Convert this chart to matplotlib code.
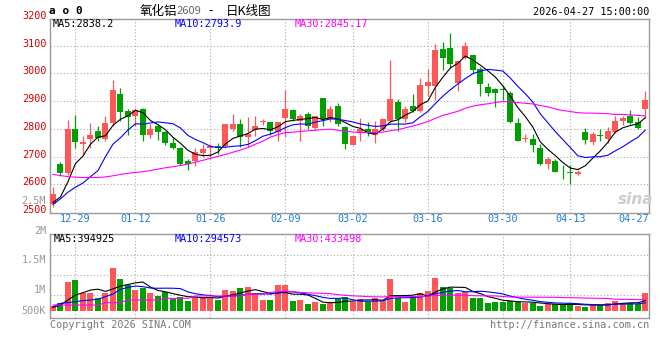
import numpy as np
import pandas as pd
import matplotlib
matplotlib.use("Agg")
import matplotlib.pyplot as plt
import matplotlib.transforms as mtransforms

# 日K数据, 12-24 .. 04-27 共80根
opens = [2530, 2672, 2642, 2800, 2745, 2762, 2793, 2762, 2822, 2925,
         2866, 2848, 2872, 2779, 2810, 2788, 2750, 2732, 2684, 2684,
         2714, 2733, 2740, 2738, 2798, 2818, 2771, 2795, 2825, 2826,
         2790, 2838, 2868, 2830, 2853, 2802, 2913, 2834, 2881, 2806,
         2741, 2788, 2800, 2779, 2798, 2830, 2898, 2836, 2881, 2866,
         2956, 2955, 3089, 3093, 2967, 3055, 3068, 3017, 2952, 2943,
         2943, 2931, 2820, 2764, 2762, 2732, 2675, 2684, 2645, 2645,
         2636, 2788, 2753, 2776, 2762, 2788, 2830, 2848, 2826, 2872]
highs = [2590, 2681, 2833, 2850, 2773, 2822, 2812, 2845, 2976, 2949,
         2872, 2874, 2877, 2818, 2818, 2794, 2770, 2734, 2693, 2731,
         2744, 2745, 2748, 2818, 2854, 2836, 2843, 2845, 2836, 2826,
         2826, 2941, 2872, 2853, 2860, 2848, 2913, 2881, 2893, 2812,
         2779, 2838, 2826, 2829, 2839, 3050, 2906, 2881, 2925, 2985,
         3017, 3107, 3113, 3146, 3043, 3113, 3068, 3023, 2964, 2949,
         2957, 2937, 2838, 2781, 2781, 2746, 2699, 2690, 2669, 2669,
         2651, 2802, 2788, 2800, 2806, 2845, 2848, 2869, 2843, 2937]
lows = [2520, 2630, 2634, 2731, 2705, 2731, 2755, 2755, 2812, 2830,
        2779, 2812, 2755, 2767, 2761, 2741, 2729, 2669, 2651, 2667,
        2699, 2700, 2710, 2730, 2794, 2735, 2734, 2774, 2815, 2779,
        2755, 2770, 2830, 2755, 2800, 2798, 2812, 2826, 2812, 2729,
        2741, 2755, 2774, 2750, 2794, 2826, 2794, 2826, 2862, 2862,
        2918, 2903, 3011, 3021, 2937, 3052, 3002, 2918, 2918, 2880,
        2905, 2822, 2755, 2753, 2717, 2669, 2657, 2643, 2621, 2600,
        2633, 2744, 2741, 2758, 2749, 2786, 2815, 2818, 2800, 2840]
closes = [2565, 2642, 2798, 2753, 2753, 2779, 2769, 2822, 2941, 2862,
          2842, 2868, 2779, 2800, 2788, 2750, 2732, 2672, 2672, 2717,
          2726, 2737, 2732, 2816, 2818, 2770, 2781, 2810, 2829, 2793,
          2826, 2872, 2834, 2845, 2810, 2845, 2834, 2872, 2818, 2744,
          2776, 2800, 2788, 2800, 2834, 2906, 2836, 2872, 2866, 2958,
          2969, 3083, 3055, 3033, 3043, 3098, 3012, 2963, 2931, 2931,
          2939, 2826, 2758, 2769, 2741, 2672, 2693, 2645, 2643, 2642,
          2645, 2761, 2782, 2774, 2794, 2830, 2840, 2822, 2804, 2904]
# 成交量 (千手)
volumes = [188, 313, 1100, 1163, 663, 688, 475, 688, 1625, 1200,
           975, 788, 850, 663, 575, 725, 450, 538, 388, 538,
           538, 538, 413, 788, 763, 875, 900, 688, 413, 413,
           975, 975, 375, 413, 263, 338, 263, 288, 438, 513,
           350, 450, 325, 475, 413, 1200, 475, 338, 538, 688,
           763, 1238, 913, 875, 663, 725, 500, 500, 313, 350,
           350, 375, 350, 288, 288, 200, 250, 250, 225, 313,
           200, 163, 225, 225, 313, 388, 288, 313, 250, 688]

# 图左端之前的均线值
ma5_head = [2535, 2555, 2610, 2675]
ma10_head = [2528, 2548, 2572, 2590, 2605, 2628, 2650, 2700, 2745]
ma30_head = [2636, 2632, 2628, 2626, 2625, 2625, 2625, 2627, 2631, 2636,
             2640, 2643, 2646, 2650, 2655, 2660, 2664, 2668, 2673, 2680,
             2687, 2694, 2701, 2708, 2716, 2724, 2733, 2745, 2756]
vma5_head = [138, 225, 413, 600]
vma10_head = [163, 288, 313, 350, 388, 413, 438, 538, 638]
vma30_head = [225] * 7 + [313] * 3 + [413] * 5 + [475] * 4 + [563] * 7 + [625] * 3

date_labels = ["12-29", "01-12", "01-26", "02-09", "03-02",
               "03-16", "03-30", "04-13", "04-27"]
date_index = [3, 11, 21, 31, 40, 50, 60, 69, 79]
price_ticks = [2500, 2600, 2700, 2800, 2900, 3000, 3100, 3200]

up_color = "#ff5757"
down_color = "#00a000"
grid_color = "#aaaaaa"
frame_color = "#999999"
mono = "DejaVu Sans Mono"
cjk = ["Noto Sans CJK SC", "DejaVu Sans"]


def moving_avg(values, n, head):
    s = pd.Series(values, dtype=float).rolling(n).mean()
    s.iloc[:len(head)] = head
    return s.values


def px(x, y):
    return x / 660, 1 - y / 360


x = np.arange(len(closes))
o = np.array(opens, dtype=float)
c = np.array(closes, dtype=float)
up = c >= o
colors = np.where(up, up_color, down_color)

fig = plt.figure(figsize=(6.6, 3.6), dpi=100)
ax = fig.add_axes([50 / 660, 1 - 213 / 360, 599 / 660, 194 / 360])
axv = fig.add_axes([50 / 660, 1 - 318 / 360, 599 / 660, 84 / 360])

# K线
ax.vlines(x, lows, highs, colors=colors, linewidth=0.9, zorder=3)
body_bottom = np.minimum(o, c)
body_h = np.maximum(np.abs(c - o), 3.0)
ax.bar(x, body_h, bottom=body_bottom, width=0.8, color=colors, linewidth=0, zorder=4)

ax.plot(x, moving_avg(closes, 5, ma5_head), color="black", lw=0.8, zorder=5)
ax.plot(x, moving_avg(closes, 10, ma10_head), color="#0000ff", lw=0.8, zorder=5)
ax.plot(x, moving_avg(closes, 30, ma30_head), color="#ff00ff", lw=0.8, zorder=5)

ax.set_xlim(-0.4, 79.5)
ax.set_ylim(2497, 3196)
ax.set_yticks(price_ticks[1:-1])
ax.set_xticks(date_index[:-1])
ax.grid(True, color=grid_color, linestyle=(0, (1, 2)), linewidth=0.8)
ax.tick_params(length=0, labelleft=False, labelbottom=False)

trans_y = mtransforms.blended_transform_factory(ax.transAxes, ax.transData)
for v in price_ticks:
    ax.text(-0.006, v + 7, str(v), transform=trans_y, ha="right", va="center",
            color="#dd0000", fontsize=7.3, family=mono, clip_on=False)

trans_x = mtransforms.blended_transform_factory(ax.transData, ax.transAxes)
for i, lab in zip(date_index[:-1], date_labels[:-1]):
    ax.text(i, -0.032, lab, transform=trans_x, ha="center", va="center",
            color="#1f7fd0", fontsize=7.3, family=mono, clip_on=False)
ax.text(1.0, -0.032, date_labels[-1], transform=ax.transAxes, ha="right",
        va="center", color="#1f7fd0", fontsize=7.3, family=mono)

# 成交量
axv.bar(x, volumes, width=0.8, color=colors, linewidth=0, zorder=3)
axv.plot(x, moving_avg(volumes, 5, vma5_head), color="black", lw=0.8, zorder=4)
axv.plot(x, moving_avg(volumes, 10, vma10_head), color="#0000ff", lw=0.8, zorder=4)
axv.plot(x, moving_avg(volumes, 30, vma30_head), color="#ff00ff", lw=0.8, zorder=4)
axv.set_xlim(-0.4, 79.5)
axv.set_ylim(-262.5, 2887.5)
axv.set_yticks([600, 1350, 2100])
axv.set_xticks(date_index[:-1])
axv.grid(True, color=grid_color, linestyle=(0, (1, 2)), linewidth=0.8)
axv.tick_params(length=0, labelleft=False, labelbottom=False)

for a in (ax, axv):
    for s in a.spines.values():
        s.set_color(frame_color)
        s.set_linewidth(1)

# 文字
fig.text(*px(49, 11), "a o 0", fontsize=8, family=mono, weight="bold", va="center")
fig.text(*px(140, 11), "氧化铝", fontsize=9, family=cjk, va="center")
fig.text(*px(177, 11), "2609", fontsize=8, family=cjk, color="#666666", va="center")
fig.text(*px(208, 11), "-", fontsize=9, family=cjk, va="center")
fig.text(*px(226, 11), "日K线图", fontsize=9, family=cjk, va="center")
fig.text(*px(649, 12), "2026-04-27 15:00:00", fontsize=7.3, family=mono, ha="right", va="center")

fig.text(*px(53, 24), "MA5:2838.2", fontsize=7.3, family=mono, color="black", va="center")
fig.text(*px(175, 24), "MA10:2793.9", fontsize=7.3, family=mono, color="#0000ff", va="center")
fig.text(*px(295, 24), "MA30:2845.17", fontsize=7.3, family=mono, color="#ff00ff", va="center")

fig.text(*px(54, 239), "MA5:394925", fontsize=7.3, family=mono, color="black", va="center")
fig.text(*px(175, 239), "MA10:294573", fontsize=7.3, family=mono, color="#0000ff", va="center")
fig.text(*px(295, 239), "MA30:433498", fontsize=7.3, family=mono, color="#ff00ff", va="center")

for lab, yy in [("2.5M", 201), ("2M", 231), ("1.5M", 260), ("1M", 290), ("500K", 311)]:
    fig.text(*px(46, yy), lab, fontsize=7.3, family=mono, color="#999999", ha="right", va="center")

fig.text(*px(50, 325), "Copyright 2026 SINA.COM", fontsize=7.3, family=mono, color="#777777", va="center")
fig.text(*px(649, 325), "http://finance.sina.com.cn", fontsize=7.3, family=mono, color="#777777",
         ha="right", va="center")
fig.text(*px(636, 199), "sina", fontsize=11, style="italic", weight="bold", color="#cccccc",
         ha="center", va="center")

fig.savefig("out.png", dpi=100)
